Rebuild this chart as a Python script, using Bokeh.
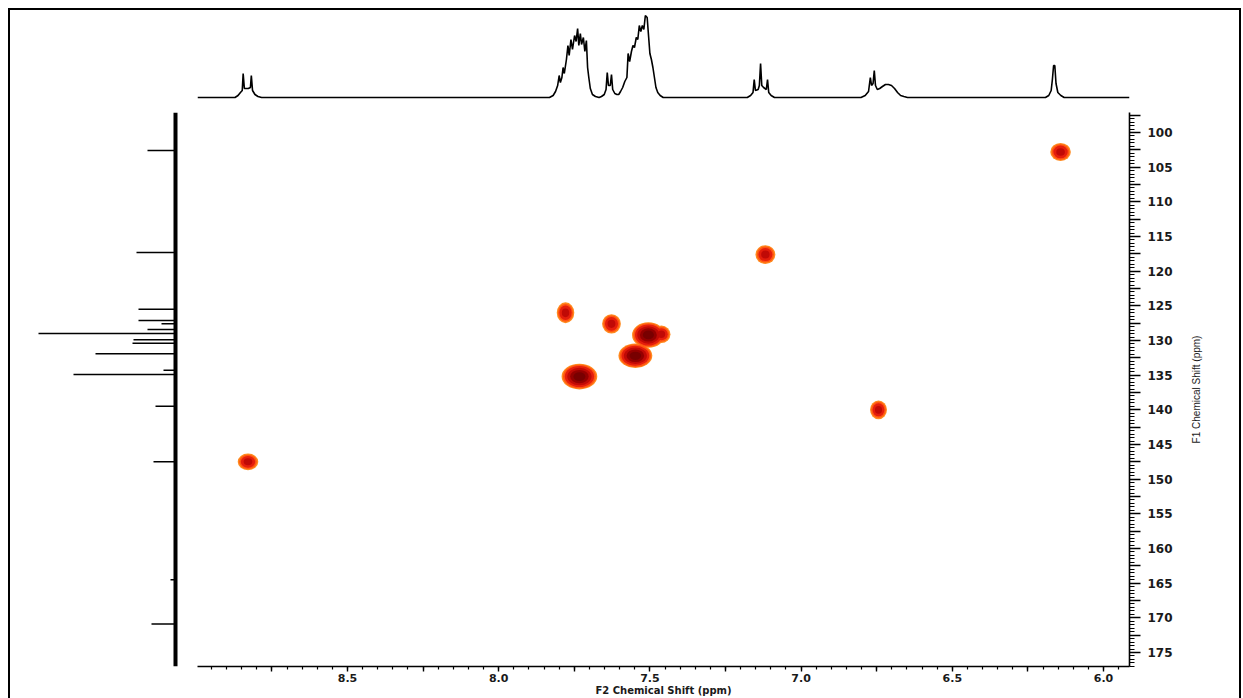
import numpy as np
from bokeh.plotting import figure
from bokeh.models import Range1d, FixedTicker, Spacer
from bokeh.layouts import column, row
from bokeh.embed import file_html
from bokeh.resources import INLINE

# ---------------- data ----------------
# 1H projection (F2) trace: chemical shift (ppm) and intensity (arb.)
h_ppm = [8.996, 8.872, 8.862, 8.854, 8.848, 8.845, 8.841, 8.835, 8.828, 8.821, 8.818, 8.814, 8.806, 8.796, 8.784,
         7.832, 7.820, 7.812, 7.805, 7.800, 7.796, 7.791, 7.787, 7.783, 7.776, 7.771, 7.767, 7.761, 7.756, 7.749,
         7.744, 7.739, 7.735, 7.730, 7.726, 7.720, 7.715, 7.710, 7.706, 7.702, 7.697, 7.690, 7.680, 7.668,
         7.660, 7.651, 7.645, 7.641, 7.637, 7.631, 7.627, 7.623, 7.616, 7.609,
         7.603, 7.597, 7.590, 7.583, 7.576, 7.572, 7.567, 7.561, 7.556, 7.551, 7.545, 7.540, 7.535, 7.530, 7.525,
         7.520, 7.515, 7.509, 7.504, 7.500, 7.495, 7.490, 7.485, 7.480, 7.474, 7.466, 7.456,
         7.178, 7.167, 7.159, 7.155, 7.151, 7.142, 7.138, 7.134, 7.130, 7.124, 7.115, 7.111, 7.107, 7.099, 7.088,
         6.802, 6.788, 6.777, 6.771, 6.767, 6.762, 6.758, 6.754, 6.748, 6.740, 6.731, 6.721, 6.711, 6.701, 6.691,
         6.681, 6.671, 6.660, 6.648,
         6.192, 6.181, 6.173, 6.169, 6.165, 6.161, 6.157, 6.151, 6.141, 6.130, 5.914]
h_int = [0, 0, 2, 5, 7, 24, 9, 9, 9, 10, 22, 7, 3, 1, 0,
         0, 2, 6, 12, 22, 15, 20, 30, 24, 38, 52, 42, 58, 48, 62,
         56, 69, 52, 64, 53, 60, 46, 57, 30, 20, 9, 3, 1, 0,
         1, 3, 8, 25, 12, 12, 23, 8, 4, 3,
         3, 6, 10, 16, 20, 44, 36, 46, 52, 50, 60, 58, 72, 66, 72,
         68, 82, 80, 60, 44, 38, 30, 20, 10, 5, 2, 0,
         0, 2, 5, 18, 7, 8, 12, 34, 12, 10, 8, 18, 5, 2, 0,
         0, 2, 6, 20, 12, 14, 27, 12, 8, 9, 11, 13, 13, 12, 9,
         5, 2, 1, 0,
         0, 2, 7, 18, 32, 32, 14, 5, 2, 0, 0]

# 13C projection (F1): peak positions (ppm) and intensities (arb.)
c_ppm = [102.6, 117.3, 125.5, 127.1, 127.6, 128.4, 129.0, 129.9, 130.4, 131.9, 134.3, 134.9, 139.5, 147.5, 164.5, 170.9]
c_int = [28, 39, 37, 37, 14, 28, 137, 42, 43, 80, 12, 102, 20, 22, 5, 24]

# HSQC cross peaks: 1H shift, 13C shift, line widths (ppm), intensity level
xp_h = [8.829, 6.142, 7.118, 7.779, 7.627, 7.505, 7.462, 7.548, 7.733, 6.744]
xp_c = [147.5, 102.8, 117.6, 126.0, 127.6, 129.2, 129.1, 132.2, 135.2, 140.0]
xp_wh = [0.068, 0.068, 0.066, 0.058, 0.062, 0.108, 0.060, 0.112, 0.118, 0.056]
xp_wc = [2.4, 2.6, 2.7, 3.0, 2.8, 3.7, 2.5, 3.5, 3.7, 2.7]
xp_level = [1, 1, 1, 1, 1, 3, 1, 3, 3, 1]

x_ticks_major = [6.0 + 0.25 * i for i in range(12)]
x_ticks_minor = [round(5.95 + 0.05 * i, 2) for i in range(61)]
y_ticks_major = [97.5 + 2.5 * i for i in range(32)]
y_ticks_minor = [97.5 + 0.5 * i for i in range(160)]

# ---------------- figures ----------------
XR = Range1d(8.996, 5.914)
YR = Range1d(177.02, 97.115)
FONT = "DejaVu Sans"

p = figure(width=991, height=586, x_range=XR, y_range=YR, title=None,
           x_axis_location="below", y_axis_location="right",
           min_border_left=7, min_border_right=52, min_border_top=0, min_border_bottom=32,
           toolbar_location=None, output_backend="svg")
p.grid.visible = False
p.outline_line_color = None

xa = p.xaxis[0]
xa.ticker = FixedTicker(ticks=x_ticks_major, minor_ticks=x_ticks_minor)
xa.major_label_overrides = {t: ("%.1f" % t if abs(t * 2 - round(t * 2)) < 1e-9 else "") for t in x_ticks_major}
xa.major_tick_out = 5
xa.major_tick_in = 0
xa.minor_tick_out = 3
xa.minor_tick_in = 0
xa.major_label_standoff = 2
xa.major_label_text_font_size = "11px"
xa.axis_label = "F2 Chemical Shift (ppm)"
xa.axis_label_standoff = 0
xa.axis_label_text_font = FONT
xa.axis_label_text_font_style = "bold"
xa.axis_label_text_font_size = "10px"
xa.axis_label_text_color = "#1a1a1a"

ya = p.yaxis[0]
ya.ticker = FixedTicker(ticks=y_ticks_major, minor_ticks=y_ticks_minor)
ya.major_label_overrides = {t: ("%d" % t if abs(t / 5 - round(t / 5)) < 1e-9 else "") for t in y_ticks_major}
ya.major_tick_out = 11
ya.major_tick_in = 0
ya.minor_tick_out = 5
ya.minor_tick_in = 0
ya.major_label_standoff = 7
ya.major_label_text_font_size = "12px"

for ax in (xa, ya):
    ax.axis_line_width = 1.6
    ax.axis_line_color = "black"
    ax.major_tick_line_width = 1.4
    ax.minor_tick_line_width = 1.2
    ax.major_tick_line_color = "black"
    ax.minor_tick_line_color = "black"
    ax.major_label_text_font = FONT
    ax.major_label_text_font_style = "bold"
    ax.major_label_text_color = "#1a1a1a"

# cross peaks drawn as layered contours
ph = np.array(xp_h); pc = np.array(xp_c)
wh = np.array(xp_wh); wc = np.array(xp_wc); lv = np.array(xp_level)
layers = [
    (1.00, 1.00, "#FF8A1E", 1),
    (0.86, 0.92, "#FF5512", 1),
    (0.70, 0.82, "#E41E0C", 1),
    (0.42, 0.68, "#C00A06", 1),
    (0.00, 0.52, "#950000", 3),
    (0.00, 0.34, "#780000", 3),
]
for s_small, s_big, col, minlev in layers:
    m = lv >= minlev
    s = np.where(lv[m] >= 3, s_big, s_small)
    p.ellipse(x=ph[m], y=pc[m], width=wh[m] * s, height=wc[m] * s,
              fill_color=col, line_color=None)

# strip holding the F1 axis title (reads bottom to top)
p2 = figure(width=58, height=586, y_range=YR, x_range=Range1d(0, 1), title=None,
            x_axis_location=None, y_axis_location="left",
            min_border_left=20, min_border_right=0, min_border_top=0, min_border_bottom=32,
            toolbar_location=None, output_backend="svg")
p2.grid.visible = False
p2.outline_line_color = None
a2 = p2.yaxis[0]
a2.ticker = FixedTicker(ticks=[], minor_ticks=[])
a2.axis_line_color = None
a2.major_tick_out = 0
a2.minor_tick_out = 0
a2.major_label_standoff = 0
a2.axis_label = "F1 Chemical Shift (ppm)"
a2.axis_label_standoff = 0
a2.axis_label_text_font = "Liberation Sans"
a2.axis_label_text_font_style = "normal"
a2.axis_label_text_font_size = "10px"
a2.axis_label_text_color = "#1a1a1a"

# top projection
pt = figure(width=1229, height=102, x_range=XR, y_range=Range1d(-3, 85), title=None,
            x_axis_location=None, y_axis_location=None,
            min_border_left=187, min_border_right=110, min_border_top=2, min_border_bottom=12,
            toolbar_location=None, output_backend="svg")
pt.grid.visible = False
pt.outline_line_color = None
pt.line(h_ppm, h_int, line_color="black", line_width=1.6)

# left projection
pl = figure(width=180, height=586, x_range=Range1d(150, -5), y_range=YR, title=None,
            x_axis_location=None, y_axis_location=None,
            min_border_left=15, min_border_right=10, min_border_top=0, min_border_bottom=32,
            toolbar_location=None, output_backend="svg")
pl.grid.visible = False
pl.outline_line_color = None
pl.line([0, 0], [YR.end, YR.start], line_color="black", line_width=4)
pl.segment(x0=[0] * len(c_ppm), y0=c_ppm, x1=c_int, y1=c_ppm, line_color="black", line_width=1.5)

inner = column(pt, row(pl, p, p2),
               styles={"border-top": "2px solid black", "border-left": "2px solid black",
                       "border-right": "2px solid black"})
layout = column(Spacer(width=1241, height=8), row(Spacer(width=8, height=10), inner))

open("out.html", "w").write(file_html(layout, INLINE))
